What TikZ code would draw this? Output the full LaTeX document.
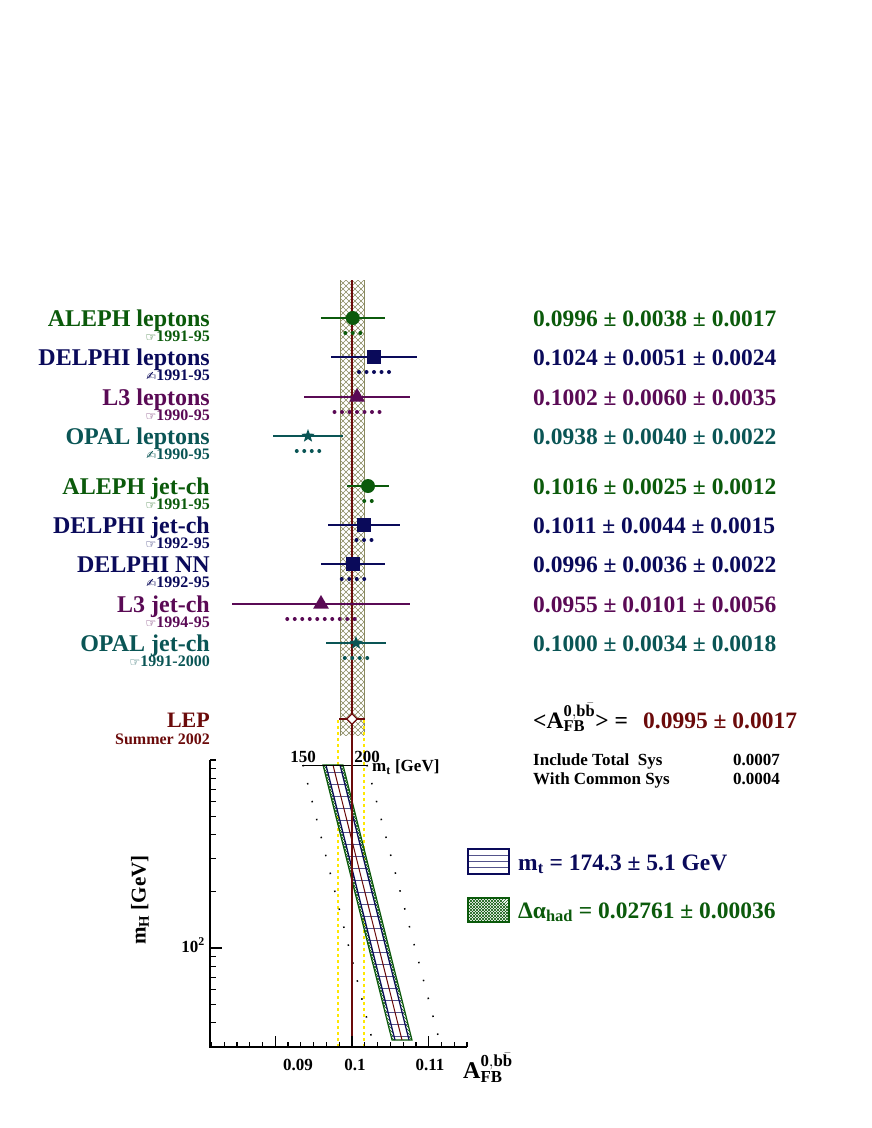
\documentclass[tikz,border=0pt]{standalone}
\usepackage{fontspec}
\setmainfont{Liberation Serif}
\newfontfamily\symf{DejaVu Sans}
\usetikzlibrary{shapes.geometric}
\definecolor{cG}{HTML}{0B5A0B}
\definecolor{cN}{HTML}{0A0A5A}
\definecolor{cP}{HTML}{5A0A55}
\definecolor{cT}{HTML}{0A5555}
\definecolor{cR}{HTML}{6B0A0A}
\definecolor{hatch}{HTML}{8A8A60}
\tikzset{
 nm/.style={anchor=base east,font=\fontsize{24}{24}\selectfont\bfseries,inner sep=0},
 yr/.style={anchor=base east,font=\fontsize{16}{16}\selectfont\bfseries,inner sep=0},
 val/.style={anchor=base west,font=\fontsize{23.5}{23}\selectfont\bfseries,inner sep=0},
 tl/.style={font=\fontsize{17}{17}\selectfont\bfseries,inner sep=0},
}
\newcommand\hand{{\symf\fontsize{12}{12}\selectfont ☞}}
\newcommand\pen{{\symf\fontsize{12}{12}\selectfont ✍}}
\newcommand\afb{A$^{\mathbf{0,b}\bar{\mathbf{b}}}_{\mathbf{FB}}$}
\begin{document}
\begin{tikzpicture}[x=1pt,y=-1pt]
\useasboundingbox (0,0) rectangle (872,1128);
% hatched band
\begin{scope}
\clip (340,280) rectangle (364,735);
\foreach \t in {0,6,...,480} {
  \draw[hatch,line width=0.6] (340,{280+\t-24}) -- (364,{280+\t});
  \draw[hatch,line width=0.6] (340,{280+\t}) -- (364,{280+\t-24});
}
\end{scope}
\draw[hatch,line width=0.6] (340,280) -- (340,735) (364,280) -- (364,735);
% yellow dashed
\draw[yellow!90!orange,line width=1.2,dashed] (338,720) -- (338,1047) (364,720) -- (364,1047);
% band
\begin{scope}
\clip (323,765) -- (343,765) -- (412,1040) -- (392,1040) -- cycle;
\foreach \t in {0,3,...,330} {
  \draw[cG,line width=0.5] (300,{760+\t-120}) -- (420,{760+\t});
  \draw[cG,line width=0.5] (300,{760+\t}) -- (420,{760+\t-120});
}
\fill[white] (326,765) -- (340,765) -- (409,1040) -- (395,1040) -- cycle;
\foreach \yy in {772,784,...,1040} \draw[cN!70,line width=0.5] (300,\yy) -- (420,\yy);
\end{scope}
\draw[cG,line width=1.2] (323,765) -- (343,765) -- (412,1040) -- (392,1040) -- cycle;
\draw[cN,line width=1.2] (326,765) -- (395,1040) (340,765) -- (409,1040);
\draw[cR,line width=1] (333,765) -- (402,1040);
% dotted
\draw[line width=1.5,dash pattern=on 1.5pt off 17pt] (303,765) -- (373,1043);
\draw[line width=1.5,dash pattern=on 1.5pt off 17pt] (367,765) -- (440,1043);
% mt scale
\draw[line width=1] (302,765) -- (367,765);
\node[tl] at (303,757) {150};
\node[tl] at (367,757) {200};
\node[tl,anchor=west] at (372,767) {m$_{\mathbf t}$ [GeV]};
% central line
\draw[cR,line width=1.5] (352,280) -- (352,1047);
% axes
\draw[line width=1.5] (210,760) -- (210,1047) -- (467,1047);
\foreach \v in {30,40,50,60,70,80,90,200,300,400,500,600,700,800,900,1000}
  \draw[line width=1.2] (210,{948-188*(log10(\v)-2)}) -- ++(6,0);
\draw[line width=1.2] (210,948) -- ++(12,0);
\foreach \i in {-11,...,9} \draw[line width=1.2] ({352+\i*76.7/6},1047) -- ++(0,-5);
\foreach \x in {275.3,352,428.7} \draw[line width=1.2] (\x,1047) -- ++(0,-11);
\node[tl] at (298,1065) {0.09};
\node[tl] at (355,1065) {0.1};
\node[tl] at (430,1065) {0.11};
\node[tl,anchor=east] at (205,945) {10$^{\mathbf 2}$};
\node[rotate=90,inner sep=0,font=\fontsize{21}{21}\selectfont\bfseries] at (140,900) {m$_{\mathbf H}$ [GeV]};
\node[anchor=west,inner sep=0,font=\fontsize{24}{24}\selectfont\bfseries] at (463,1068) {\afb};
% entries
\newcommand\entry[9]{%
 \draw[#1,line width=1.5] ({#3-#4},#2) -- ({#3+#4},#2);
 \foreach \k in {0,...,#5} \fill[#1] ({#3-3.75*#5+\k*7.5},{#2+15}) circle (2);
 \node[#1,#6] at (#3,#2) {};
 \node[nm,#1] at (210,{#2+8}) {#7};
 \node[yr,#1] at (210,{#2+23}) {#8};
 \node[val,#1] at (533,{#2+8}) {#9};
}
\entry{cG}{318}{352.8}{32}{2}{circle,fill,inner sep=0,minimum size=14}{ALEPH leptons}{\hand1991-95}{0.0996 ± 0.0038 ± 0.0017}
\entry{cN}{357}{374}{43}{4}{rectangle,fill,inner sep=0,minimum size=14}{DELPHI leptons}{\pen1991-95}{0.1024 ± 0.0051 ± 0.0024}
\entry{cP}{397}{357}{53}{6}{regular polygon,regular polygon sides=3,fill,inner sep=0,minimum size=18}{L3 leptons}{\hand1990-95}{0.1002 ± 0.0060 ± 0.0035}
\entry{cT}{436}{308}{35}{3}{star,star points=5,star point ratio=2.4,fill,inner sep=0,minimum size=14}{OPAL leptons}{\pen1990-95}{0.0938 ± 0.0040 ± 0.0022}
\entry{cG}{486}{368}{21}{1}{circle,fill,inner sep=0,minimum size=14}{ALEPH jet-ch}{\hand1991-95}{0.1016 ± 0.0025 ± 0.0012}
\entry{cN}{525}{364}{36}{2}{rectangle,fill,inner sep=0,minimum size=14}{DELPHI jet-ch}{\hand1992-95}{0.1011 ± 0.0044 ± 0.0015}
\entry{cN}{564}{353}{32}{3}{rectangle,fill,inner sep=0,minimum size=14}{DELPHI NN}{\pen1992-95}{0.0996 ± 0.0036 ± 0.0022}
\entry{cP}{604}{321}{89}{9}{regular polygon,regular polygon sides=3,fill,inner sep=0,minimum size=18}{L3 jet-ch}{\hand1994-95}{0.0955 ± 0.0101 ± 0.0056}
\entry{cT}{643}{356}{30}{3}{star,star points=5,star point ratio=2.4,fill,inner sep=0,minimum size=14}{OPAL jet-ch}{\hand1991-2000}{0.1000 ± 0.0034 ± 0.0018}
% LEP
\draw[cR,line width=1.5] (339,719) -- (365,719);
\node[cR,diamond,draw,fill=white,line width=1.3,inner sep=0,minimum size=11] (lep) at (352,719) {};
\node[nm,cR,font=\fontsize{22}{22}\selectfont\bfseries] at (210,727) {LEP};
\node[yr,cR] at (210,744) {Summer 2002};
\node[val,black] at (533,728) {<\afb> =};
\node[val,cR] at (643,728) {0.0995 ± 0.0017};
\node[anchor=base west,inner sep=0,font=\fontsize{17}{17}\selectfont\bfseries] at (533,765) {Include Total\ \ Sys};
\node[anchor=base east,inner sep=0,font=\fontsize{17}{17}\selectfont\bfseries] at (780,765) {0.0007};
\node[anchor=base west,inner sep=0,font=\fontsize{17}{17}\selectfont\bfseries] at (533,784) {With Common Sys};
\node[anchor=base east,inner sep=0,font=\fontsize{17}{17}\selectfont\bfseries] at (780,784) {0.0004};
% legend
\fill[white] (468,849) rectangle (509,874);
\foreach \yy in {855,861,867} \draw[cN!70,line width=0.6] (468,\yy) -- (509,\yy);
\draw[cN,line width=1.5] (468,849) rectangle (509,874);
\node[val,cN] at (518,870) {m$_{\mathbf t}$ = 174.3 ± 5.1 GeV};
\begin{scope}
\clip (468,898) rectangle (509,922);
\foreach \t in {0,3,...,70} {
  \draw[cG,line width=0.5] (468,{898+\t-30}) -- (509,{898+\t+11});
  \draw[cG,line width=0.5] (468,{898+\t}) -- (509,{898+\t-41});
}
\end{scope}
\draw[cG,line width=1.5] (468,898) rectangle (509,922);
\node[val,cG] at (518,918) {Δα$_{\mathbf{had}}$ = 0.02761 ± 0.00036};
\end{tikzpicture}
\end{document}
